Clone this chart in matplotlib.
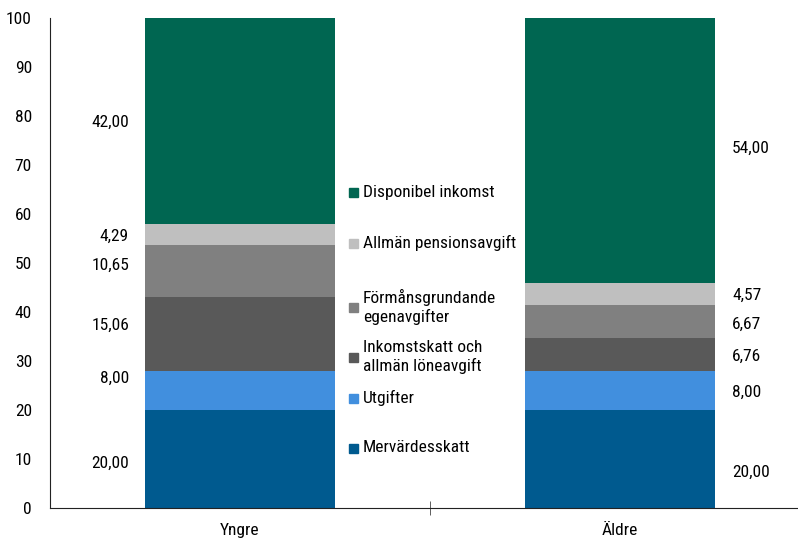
import matplotlib
matplotlib.use("Agg")
import matplotlib.pyplot as plt
from matplotlib import font_manager
import numpy as np

categories = ["Yngre", "Äldre"]
series_names = ["Mervärdesskatt", "Utgifter", "Inkomstskatt och\nallmän löneavgift",
                "Förmånsgrundande\negenavgifter", "Allmän pensionsavgift", "Disponibel inkomst"]
yngre = [20.00, 8.00, 15.06, 10.65, 4.29, 42.00]
aldre = [20.00, 8.00, 6.76, 6.67, 4.57, 54.00]
colors = ["#005A8F", "#418FDE", "#595959", "#808080", "#BFBFBF", "#006651"]
yticks = list(range(0, 101, 10))

# label vertical placements (as in the reference)
label_y_yngre = [9.2, 26.5, 37.3, 49.6, 55.5, 78.8]
label_y_aldre = [7.3, 23.7, 31.0, 37.5, 43.5, 73.5]

names = {f.name for f in font_manager.fontManager.ttflist}
fam = "Roboto Condensed" if "Roboto Condensed" in names else "Roboto"
plt.rcParams['font.family'] = [fam, 'DejaVu Sans']

W, H = 798, 540
fig = plt.figure(figsize=(W / 100, H / 100), dpi=100)
ax_l, ax_r, ax_t, ax_b = 50, 810, 18, 508
ax = fig.add_axes([ax_l / W, 1 - ax_b / H, (ax_r - ax_l) / W, (ax_b - ax_t) / H])

x = np.arange(len(categories))
data = np.array([yngre, aldre]).T
bottom = np.zeros(len(categories))
for vals, c in zip(data, colors):
    ax.bar(x, vals, 0.5, bottom=bottom, color=c, linewidth=0)
    bottom += vals

ax.set_xlim(-0.5, 1.5)
ax.set_ylim(0, 100)
ax.set_yticks(yticks)
ax.tick_params(axis='y', length=0, pad=13, labelsize=12.5)
ax.set_xticks(x)
ax.set_xticklabels(categories, fontsize=12.5)
ax.tick_params(axis='x', length=0, pad=11)
ax.set_xticks([0.5], minor=True)
ax.tick_params(axis='x', which='minor', length=10, direction='inout', color='#444444')
for s in ['top', 'right']:
    ax.spines[s].set_visible(False)
ax.spines['left'].set_color('#222222')
ax.spines['bottom'].set_color('#222222')

for v, ly in zip(yngre, label_y_yngre):
    ax.text(-0.292, ly, f"{v:.2f}".replace('.', ','), ha='right', va='center', fontsize=12.5)
for v, ly in zip(aldre, label_y_aldre):
    ax.text(1.295, ly, f"{v:.2f}".replace('.', ','), ha='left', va='center', fontsize=12.5)

# manual legend (pixel placements)
leg_py = [448, 398, 357, 307, 243, 192]
for name, c, py in zip(series_names, colors, leg_py):
    fig.patches.append(plt.Rectangle((349 / W, 1 - (py + 5) / H), 9 / W, 9 / H,
                                     transform=fig.transFigure, color=c, figure=fig))
    fig.text(363 / W, 1 - py / H, name, ha='left', va='center', fontsize=12.5, linespacing=1.3)

fig.savefig("out.png", dpi=100)
